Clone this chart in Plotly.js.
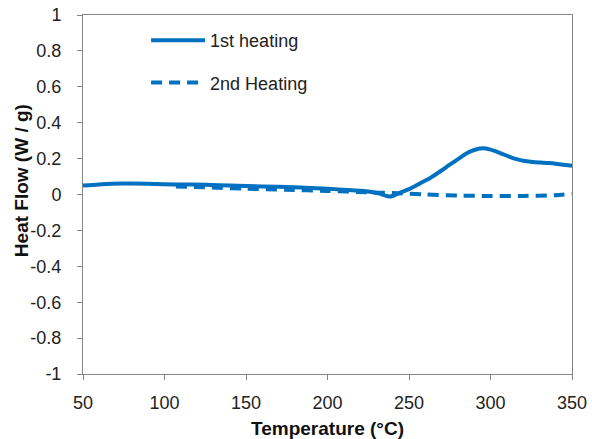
<!DOCTYPE html>
<html>
<head>
<meta charset="utf-8">
<script src="https://cdn.plot.ly/plotly-3.0.1.min.js"></script>
<style>html,body{margin:0;padding:0;background:#fff;}#chart{width:592px;height:439px;}</style>
</head>
<body>
<div id="chart"></div>
<script>
// 1st heating (solid)
const temp1 = [50,60,75,90,100,110,125,140,160,180,200,215,225,232,237,240,245,250,257,263,269,275,281,286,290,295,300,306,311,316,321,326,331,336,341,346,350];
const heat1 = [0.050,0.056,0.061,0.060,0.057,0.056,0.054,0.050,0.045,0.040,0.032,0.024,0.017,0.005,-0.010,-0.008,0.012,0.030,0.063,0.092,0.128,0.166,0.203,0.232,0.248,0.257,0.250,0.231,0.213,0.197,0.187,0.181,0.178,0.175,0.170,0.164,0.160];
// 2nd heating (dashed)
const temp2 = [107,125,150,175,200,225,240,260,280,300,320,340,350];
const heat2 = [0.045,0.040,0.032,0.026,0.020,0.012,0.008,0.000,-0.006,-0.008,-0.008,-0.004,0.004];

const seriesNames = ["1st heating", "2nd Heating"];
const xTickVals = [50,100,150,200,250,300,350];
const yTickVals = [-1,-0.8,-0.6,-0.4,-0.2,0,0.2,0.4,0.6,0.8,1];
const yTickText = ["-1","-0.8","-0.6","-0.4","-0.2","0","0.2","0.4","0.6","0.8","1"];
const xTitle = "Temperature (°C)";
const yTitle = "Heat Flow (W / g)";

const blue = "#0070C0";
const axisGrey = "#868686";
const font = "Liberation Sans, Arial, sans-serif";

const traces = [
  {x: temp1, y: heat1, type: "scatter", mode: "lines", name: seriesNames[0], legendgroup: "a",
   line: {color: blue, width: 4, shape: "spline", smoothing: 0.8}},
  {x: temp2, y: heat2, type: "scatter", mode: "lines", name: seriesNames[1], legendgroup: "b",
   line: {color: blue, width: 4, dash: "11px,7px", shape: "spline", smoothing: 0.8}}
];

const layout = {
  width: 592, height: 439,
  margin: {l: 83, r: 20, t: 15, b: 65},
  paper_bgcolor: "#fff", plot_bgcolor: "#fff",
  font: {family: font, size: 18, color: "#222"},
  showlegend: true,
  legend: {x: 0.129, y: 0.9805, xanchor: "left", yanchor: "top", bgcolor: "rgba(0,0,0,0)",
           font: {family: font, size: 18, color: "#222"}, tracegroupgap: 16, itemwidth: 54},
  xaxis: {range: [50, 350], tickvals: xTickVals, ticktext: xTickVals.map(String),
          showgrid: false, zeroline: false, showline: true, mirror: true, linecolor: axisGrey, linewidth: 1,
          ticks: "outside", ticklen: 5, tickcolor: axisGrey, tickfont: {size: 18}, ticklabelstandoff: 7,
          title: {text: "<b>" + xTitle + "</b>", font: {size: 19, color: "#111"}, standoff: 14}},
  yaxis: {range: [-1, 1], tickvals: yTickVals, ticktext: yTickText,
          showgrid: false, zeroline: false, showline: true, mirror: true, linecolor: axisGrey, linewidth: 1,
          ticks: "outside", ticklen: 5, tickcolor: axisGrey, tickfont: {size: 18}, ticklabelstandoff: 12},
  annotations: [
    {text: "<b>" + yTitle + "</b>", xref: "paper", yref: "paper", x: -0.1268, y: 0.540,
     xanchor: "center", yanchor: "middle", textangle: -90, showarrow: false,
     font: {family: font, size: 19, color: "#111"}}
  ]
};

Plotly.newPlot("chart", traces, layout, {displayModeBar: false, staticPlot: true});
</script>
</body>
</html>
